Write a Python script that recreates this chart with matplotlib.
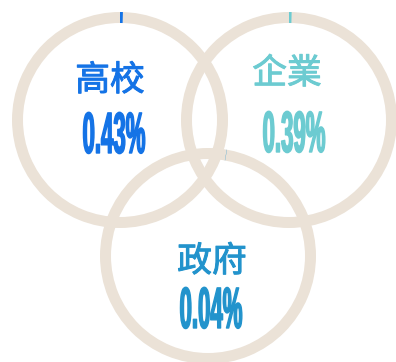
import matplotlib
matplotlib.use("Agg")
import matplotlib.pyplot as plt
from matplotlib.patches import Wedge
from matplotlib import patheffects
from matplotlib.patheffects import AbstractPathEffect
from matplotlib.transforms import Affine2D

# share of each sector
labels = ["高校", "企業", "政府"]
values = [0.43, 0.39, 0.04]          # percent
colors = ["#1473e6", "#6ccbd1", "#2293cc"]

# layout in pixel units (y measured downward from the top edge)
W, H = 396, 362
centers = [(120, 120), (289, 120), (208, 256)]
start_deg = [90, 90, 80]             # where each progress arc begins
label_pos = [(110, 81), (287, 74), (212, 262)]
number_base = [(114, 153), (294, 152), (211, 328)]
R_OUT, RING_W = 108, 11
RING_COLOR = "#ebe2d7"


class Squeeze(AbstractPathEffect):
    """Horizontally condense (and slightly embolden) a text's glyphs."""
    def __init__(self, text, sx, weight=0.0):
        super().__init__()
        self.text = text
        self.sx = sx
        self.weight = weight

    def draw_path(self, renderer, gc, tpath, affine, rgbFace=None):
        x0, _ = self.text.get_transform().transform(self.text.get_position())
        sq = Affine2D().translate(-x0, 0).scale(self.sx, 1).translate(x0, 0)
        gc0 = renderer.new_gc()
        gc0.copy_properties(gc)
        if self.weight > 0:
            gc0.set_linewidth(self.weight)
            gc0.set_foreground(rgbFace)
            gc0.set_joinstyle("round")
        renderer.draw_path(gc0, tpath, affine + sq, rgbFace)
        gc0.restore()


fig = plt.figure(figsize=(W / 100, H / 100), dpi=100)
ax = fig.add_axes([0, 0, 1, 1])
ax.set_xlim(0, W)
ax.set_ylim(0, H)
ax.set_aspect("equal")
ax.axis("off")

# rings first, then the value arcs on top
for (cx, cy) in centers:
    ax.add_patch(Wedge((cx, H - cy), R_OUT, 0, 360, width=RING_W,
                       color=RING_COLOR, lw=0))

for (cx, cy), v, st, c in zip(centers, values, start_deg, colors):
    sweep = v / 100 * 360
    ax.add_patch(Wedge((cx, H - cy), R_OUT, st - sweep, st, width=RING_W,
                       color=c, lw=0))

for lab, (lx, ly), c in zip(labels, label_pos, colors):
    ax.text(lx, H - ly, lab, ha="center", va="center", color=c,
            fontsize=25, family=["Noto Sans CJK SC", "DejaVu Sans"],
            path_effects=[patheffects.withStroke(linewidth=0.7, foreground=c)])

for v, (nx, ny), c in zip(values, number_base, colors):
    t = ax.text(nx, H - ny, f"{v:.2f}%", ha="center", va="baseline",
                color=c, fontsize=42, fontweight="bold",
                family=["Liberation Sans", "DejaVu Sans"])
    t.set_path_effects([Squeeze(t, 0.38, weight=1.0)])

fig.savefig("out.png", dpi=100)
